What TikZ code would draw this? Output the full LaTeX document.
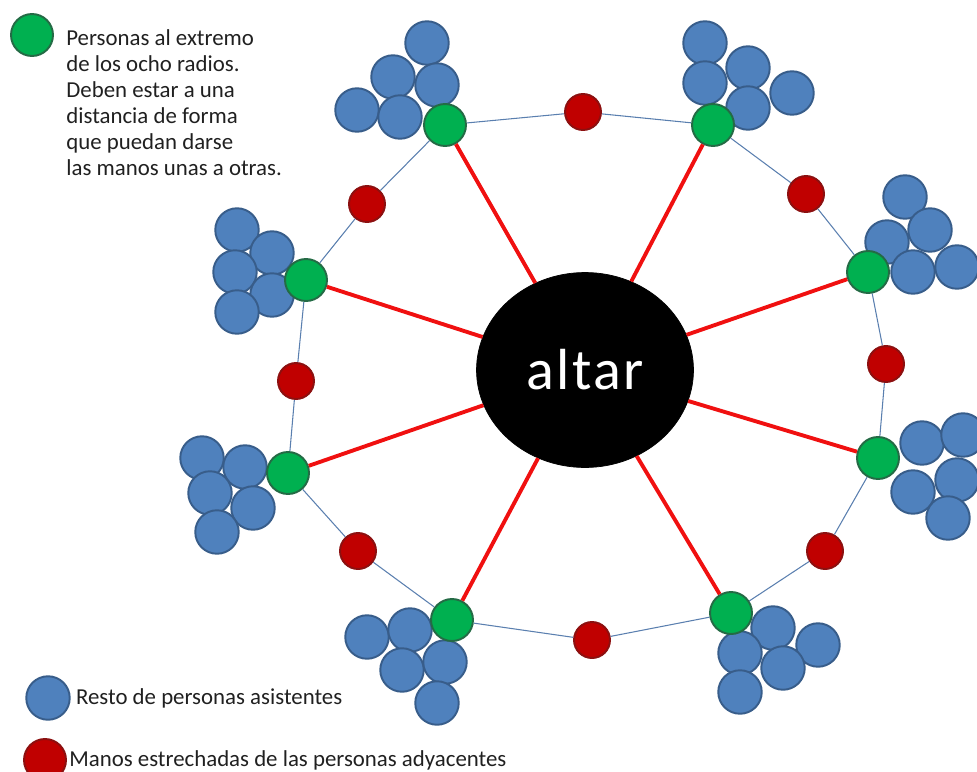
\documentclass[tikz,border=0pt]{standalone}
\usepackage{fontspec}
\setmainfont{Carlito}
\usetikzlibrary{positioning, shapes.geometric}

\definecolor{personaazul}{HTML}{4F81BD}
\definecolor{personaborde}{HTML}{385D8A}
\definecolor{extremoverde}{HTML}{00B050}
\definecolor{extremoborde}{HTML}{246B45}
\definecolor{manosrojo}{HTML}{C00000}
\definecolor{manosborde}{HTML}{8C1010}
\definecolor{radiorojo}{HTML}{F01010}
\definecolor{anilloazul}{HTML}{5A7FAF}
\definecolor{textogris}{HTML}{202020}

\begin{document}
\begin{tikzpicture}[x=0.02cm, y=-0.02cm]
    \tikzstyle{persona}=[circle, draw=personaborde, fill=personaazul, line width=1.1pt, minimum size=0.87cm, inner sep=0pt]
    \tikzstyle{extremo}=[circle, draw=extremoborde, fill=extremoverde, line width=1.1pt, minimum size=0.84cm, inner sep=0pt]
    \tikzstyle{manos}=[circle, draw=manosborde, fill=manosrojo, line width=1.1pt, minimum size=0.72cm, inner sep=0pt]
    \tikzstyle{radio}=[draw=radiorojo, line width=2.2pt]
    \tikzstyle{anillo}=[draw=anilloazul, line width=0.6pt]
    \tikzstyle{leyenda}=[text=textogris, align=left, inner sep=0pt, font=\fontsize{13}{14.8}\selectfont]

    \useasboundingbox (0,0) rectangle (977,771);

    % Draw the altar
    \node[ellipse, fill=black, draw=black, minimum width=4.34cm, minimum height=3.9cm, text=white, font=\fontsize{33}{33}\selectfont\addfontfeatures{LetterSpace=4}] (altar) at (585,370) {altar};

    % Draw the other people, five behind each end of a radius
    \foreach \x/\y [count=\n] in {427/43, 393/77, 437/85, 357/110, 400/117,
                                  705/43, 705/83, 748/68, 792/93, 748/108,
                                  905/197, 930/230, 887/242, 913/272, 957/267,
                                  922/443, 963/435, 957/480, 913/492, 948/518,
                                  773/628, 740/653, 818/645, 783/668, 740/692,
                                  367/637, 410/630, 402/670, 445/662, 437/703,
                                  202/458, 245/467, 210/493, 253/508, 217/532,
                                  237/230, 272/253, 235/272, 272/295, 237/312}
    \node[persona] (B-\n) at (\x,\y) {};

    % Draw the people at the end of the eight radii
    \foreach \x/\y [count=\n] in {445/125, 713/125, 868/272, 878/458, 731/613, 452/620, 288/473, 306/280}
    \node[extremo] (G-\n) at (\x,\y) {};

    % Draw the joined hands
    \foreach \x/\y [count=\n] in {583/112, 806/194, 886/364, 825/551, 592/640, 358/551, 296/381, 367/204}
    \node[manos] (R-\n) at (\x,\y) {};

    % Connect the altar with the end of every radius
    \foreach \i in {1,...,8}
    \draw[radio] (altar) -- (G-\i);

    % Connect neighbours through their hands
    \foreach \i/\j in {1/2, 2/3, 3/4, 4/5, 5/6, 6/7, 7/8, 8/1} {
        \draw[anillo] (G-\i) -- (R-\i);
        \draw[anillo] (R-\i) -- (G-\j);
    }

    % Legend
    \node[extremo] (L-verde) at (32,35) {};
    \node[leyenda, anchor=west] (L-verde-txt) at (66,103) {Personas al extremo\\de los ocho radios.\\Deben estar a una\\distancia de forma\\que puedan darse\\las manos unas a otras.};
    \node[persona] (L-azul) at (48,698) {};
    \node[leyenda, right=0.1cm of L-azul] (L-azul-txt) {Resto de personas asistentes};
    \node[manos, minimum size=0.84cm] (L-rojo) at (45,760) {};
    \node[leyenda, right=0.04cm of L-rojo] (L-rojo-txt) {Manos estrechadas de las personas adyacentes};
\end{tikzpicture}
\end{document}
